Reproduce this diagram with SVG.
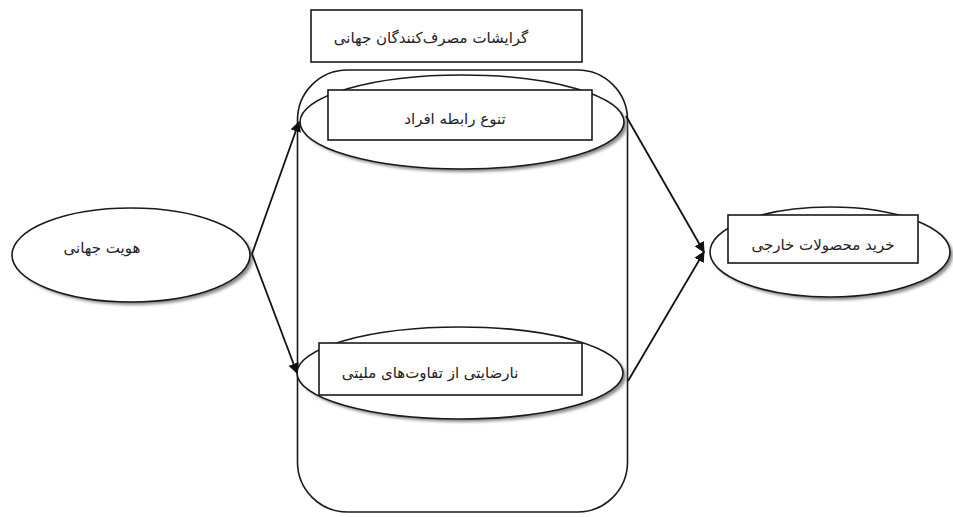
<svg xmlns="http://www.w3.org/2000/svg" width="953" height="517" viewBox="0 0 953 517">
<style>
.s{fill:#fff;stroke:#1a1a1a;stroke-width:1.6}
.w{fill:#fff;stroke:#1a1a1a;stroke-width:1.6}
.sh{fill:#8a8a8a;filter:url(#blur)}
.t{font-family:"DejaVu Sans",sans-serif;font-size:15px;fill:#222;text-anchor:middle;direction:rtl}
.c{stroke:#111;stroke-width:1.8;fill:none}
</style>
<defs>
<marker id="ah" viewBox="0 0 10 10" refX="9" refY="5" markerWidth="6" markerHeight="6" orient="auto" markerUnits="strokeWidth">
<path d="M0,0 L10,5 L0,10 z" fill="#111"/>
</marker>
<filter id="blur" x="-10%" y="-10%" width="120%" height="120%">
<feGaussianBlur stdDeviation="1.5"/>
</filter>
</defs>
<rect width="953" height="517" fill="#fff"/>
<g id="container">
<rect fill="none" stroke="#1a1a1a" stroke-width="1.6" x="297.5" y="70" width="330" height="442" rx="50" ry="50"/>
</g>
<g id="title">
<rect class="w" x="311" y="10" width="271" height="52"/>
<text class="t" x="431" y="43">گرایشات مصرف‌کنندگان جهانی</text>
</g>
<g id="global-identity">
<ellipse class="sh" cx="134" cy="258" rx="119" ry="47"/>
<ellipse class="w" cx="131" cy="255" rx="119" ry="47"/>
<text class="t" x="102" y="253">هویت جهانی</text>
</g>
<g id="diversity">
<ellipse class="sh" cx="465" cy="125" rx="162" ry="47"/>
<ellipse class="s" cx="462" cy="122" rx="162" ry="47"/>
<rect class="w" x="328" y="90" width="264" height="50"/>
<text class="t" x="455" y="124">تنوع رابطه افراد</text>
</g>
<g id="dissatisfaction">
<ellipse class="sh" cx="463" cy="376" rx="163" ry="46"/>
<ellipse class="s" cx="460" cy="373" rx="163" ry="46"/>
<rect class="w" x="319" y="343" width="263" height="52"/>
<text class="t" x="430" y="378">نارضایتی از تفاوت‌های ملیتی</text>
</g>
<g id="foreign-purchase">
<ellipse class="sh" cx="833" cy="255" rx="120" ry="45"/>
<ellipse class="w" cx="830" cy="252" rx="120" ry="45"/>
<rect class="w" x="728" y="215" width="190" height="48"/>
<text class="t" x="823" y="250">خرید محصولات خارجی</text>
</g>
<g id="connectors">
<line class="c" x1="252" y1="254" x2="299" y2="122" marker-end="url(#ah)"/>
<line class="c" x1="252" y1="254" x2="297" y2="373" marker-end="url(#ah)"/>
<line class="c" x1="626" y1="116" x2="704" y2="252" marker-end="url(#ah)"/>
<line class="c" x1="628" y1="381" x2="704" y2="252" marker-end="url(#ah)"/>
</g>
</svg>
